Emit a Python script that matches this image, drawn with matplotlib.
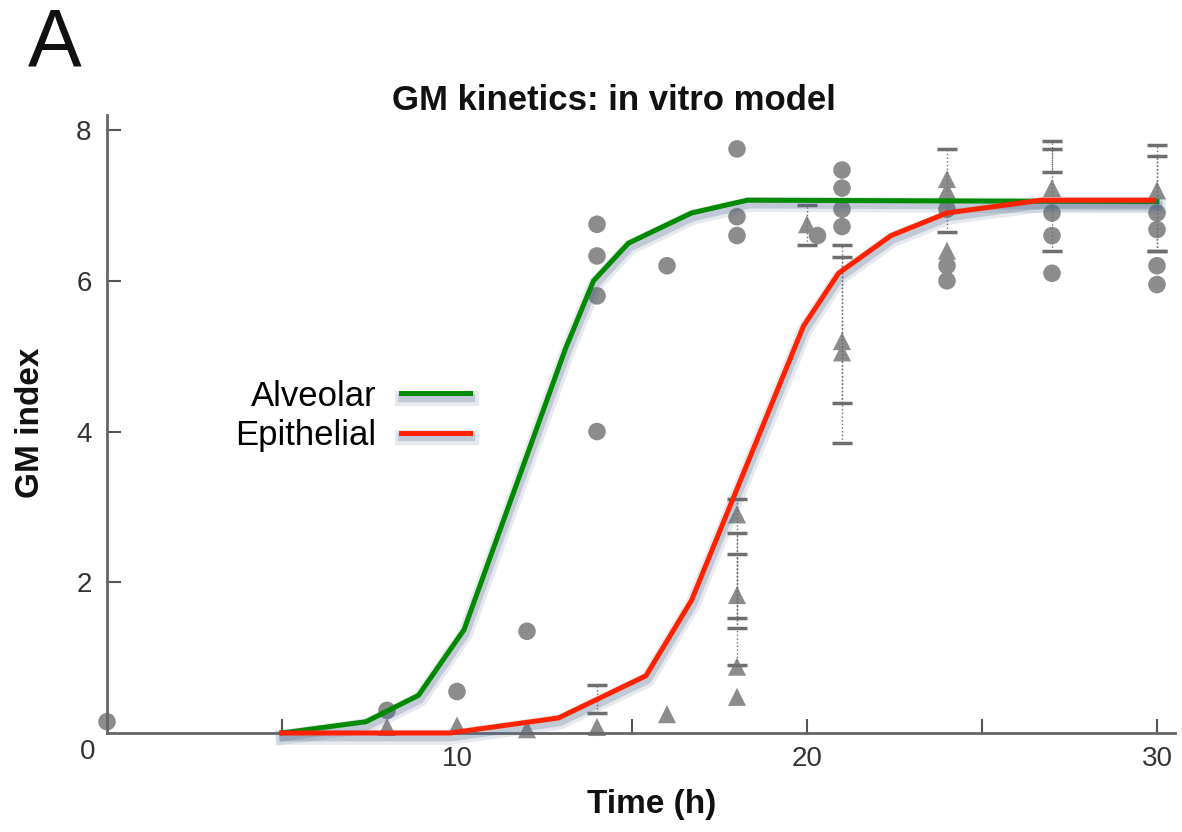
import numpy as np
import matplotlib
matplotlib.use("Agg")
from matplotlib import pyplot as plt
from matplotlib import patheffects as pe

plt.rcParams['font.family'] = ['Liberation Sans', 'DejaVu Sans']

# model curves (time in h, GM index)
alv_t = [5, 7.4, 8.9, 10.2, 13.1, 13.9, 14.9, 16.7, 18.3, 30]
alv_gm = [0, 0.15, 0.5, 1.37, 5.1, 6.0, 6.5, 6.9, 7.07, 7.05]
epi_t = [5, 9.8, 12.9, 15.4, 16.7, 19.9, 20.9, 22.4, 24.0, 26.7, 29.9]
epi_gm = [0, 0, 0.2, 0.76, 1.76, 5.4, 6.1, 6.6, 6.9, 7.07, 7.07]

# measured samples
circ_t = [0, 8, 10, 12, 14, 14, 14, 14, 16, 18, 18, 18, 20.3,
          21, 21, 21, 21, 24, 24, 24, 27, 27, 27, 30, 30, 30, 30]
circ_gm = [0.15, 0.3, 0.55, 1.35, 6.75, 6.33, 5.8, 4.0, 6.2, 7.75, 6.85, 6.6, 6.6,
           7.47, 7.23, 6.95, 6.72, 6.95, 6.2, 6.0, 6.9, 6.6, 6.1, 6.9, 6.68, 6.2, 5.95]
tri_t = [8, 10, 12, 14, 16, 18, 18, 18, 18, 20, 21, 21, 24, 24, 24, 27, 30]
tri_gm = [0.08, 0.1, 0.05, 0.08, 0.25, 2.9, 1.83, 0.88, 0.48, 6.75, 5.2, 5.05,
          7.35, 7.2, 6.4, 7.23, 7.2]

# error bar ranges
err_t = [14, 18, 18, 18, 20, 21, 21, 24, 27, 27, 30, 30]
err_lo = [0.27, 1.53, 1.39, 0.9, 6.47, 3.85, 4.38, 6.65, 6.4, 7.45, 6.4, 6.4]
err_hi = [0.64, 3.1, 2.65, 2.37, 7.0, 6.47, 6.32, 7.75, 7.85, 7.75, 7.8, 7.65]

W, H = 1182, 832
fig = plt.figure(figsize=(W / 100, H / 100), dpi=100)
ax = fig.add_axes([107 / W, 99 / H, 1067.5 / W, 618 / H])
ax.set_xlim(0, 30.5)
ax.set_ylim(0, 8.2)

gray = '#8c8c8c'
ax.scatter(circ_t, circ_gm, s=160, marker='o', color=gray, edgecolors='none',
           zorder=2, clip_on=False)
ax.scatter(tri_t, tri_gm, s=170, marker='^', color=gray, edgecolors='none',
           zorder=2, clip_on=False)

mid = (np.array(err_hi) + np.array(err_lo)) / 2
half = (np.array(err_hi) - np.array(err_lo)) / 2
eb = ax.errorbar(err_t, mid, yerr=half, fmt='none', ecolor='#6e6e6e',
                 elinewidth=1, capsize=7, capthick=2.5, zorder=2)
eb[2][0].set_linestyle(':')

# soft bluish drop shadow under the fitted curves
shadow = [pe.SimpleLineShadow(offset=(1, -3), shadow_color='#4f6a8c', alpha=0.14, linewidth=11),
          pe.SimpleLineShadow(offset=(1, -3), shadow_color='#4f6a8c', alpha=0.25, linewidth=6),
          pe.Normal()]
ax.plot(alv_t, alv_gm, color='#008a00', lw=3.6, label='Alveolar',
        path_effects=shadow, zorder=4, clip_on=False)
ax.plot(epi_t, epi_gm, color='#ff2200', lw=3.6, label='Epithelial',
        path_effects=shadow, zorder=5, clip_on=False)

leg = ax.legend(loc='center right', bbox_to_anchor=(470 / W, 1 - 416 / H),
                bbox_transform=fig.transFigure, markerfirst=False, frameon=False,
                fontsize=25, handlelength=2.0, handletextpad=0.7,
                labelspacing=0.2, borderpad=0, borderaxespad=0)

for side in ['top', 'right']:
    ax.spines[side].set_visible(False)
for side in ['left', 'bottom']:
    ax.spines[side].set_color('#666666')
    ax.spines[side].set_linewidth(2)

ax.set_xticks([5, 10, 15, 20, 25, 30])
ax.set_xticklabels(['', '10', '', '20', '', '30'])
ax.set_yticks([2, 4, 6, 8])
ax.tick_params(direction='in', length=10, width=1.5, color='#555555',
               labelsize=20, labelcolor='#333333')
ax.tick_params(axis='x', pad=9)
ax.tick_params(axis='y', pad=11)
ax.annotate('0', xy=(0, 0), xytext=(-14, -14), textcoords='offset points',
            ha='center', va='center', fontsize=20, color='#333333')

fig.text(614 / W, 1 - 110 / H, 'GM kinetics: in vitro model', ha='center',
         va='baseline', fontsize=25, fontweight='bold', color='#111111')
fig.text(652 / W, 1 - 813 / H, 'Time (h)', ha='center', va='baseline',
         fontsize=24, fontweight='bold', color='#111111')
fig.text(31 / W, 1 - 423 / H, 'GM index', ha='center', va='center',
         rotation=90, fontsize=24, fontweight='bold', color='#111111')
fig.text(28 / W, 1 - 65 / H, 'A', ha='left', va='baseline', fontsize=58,
         color='#111111')

plt.savefig('out.png', dpi=100)
